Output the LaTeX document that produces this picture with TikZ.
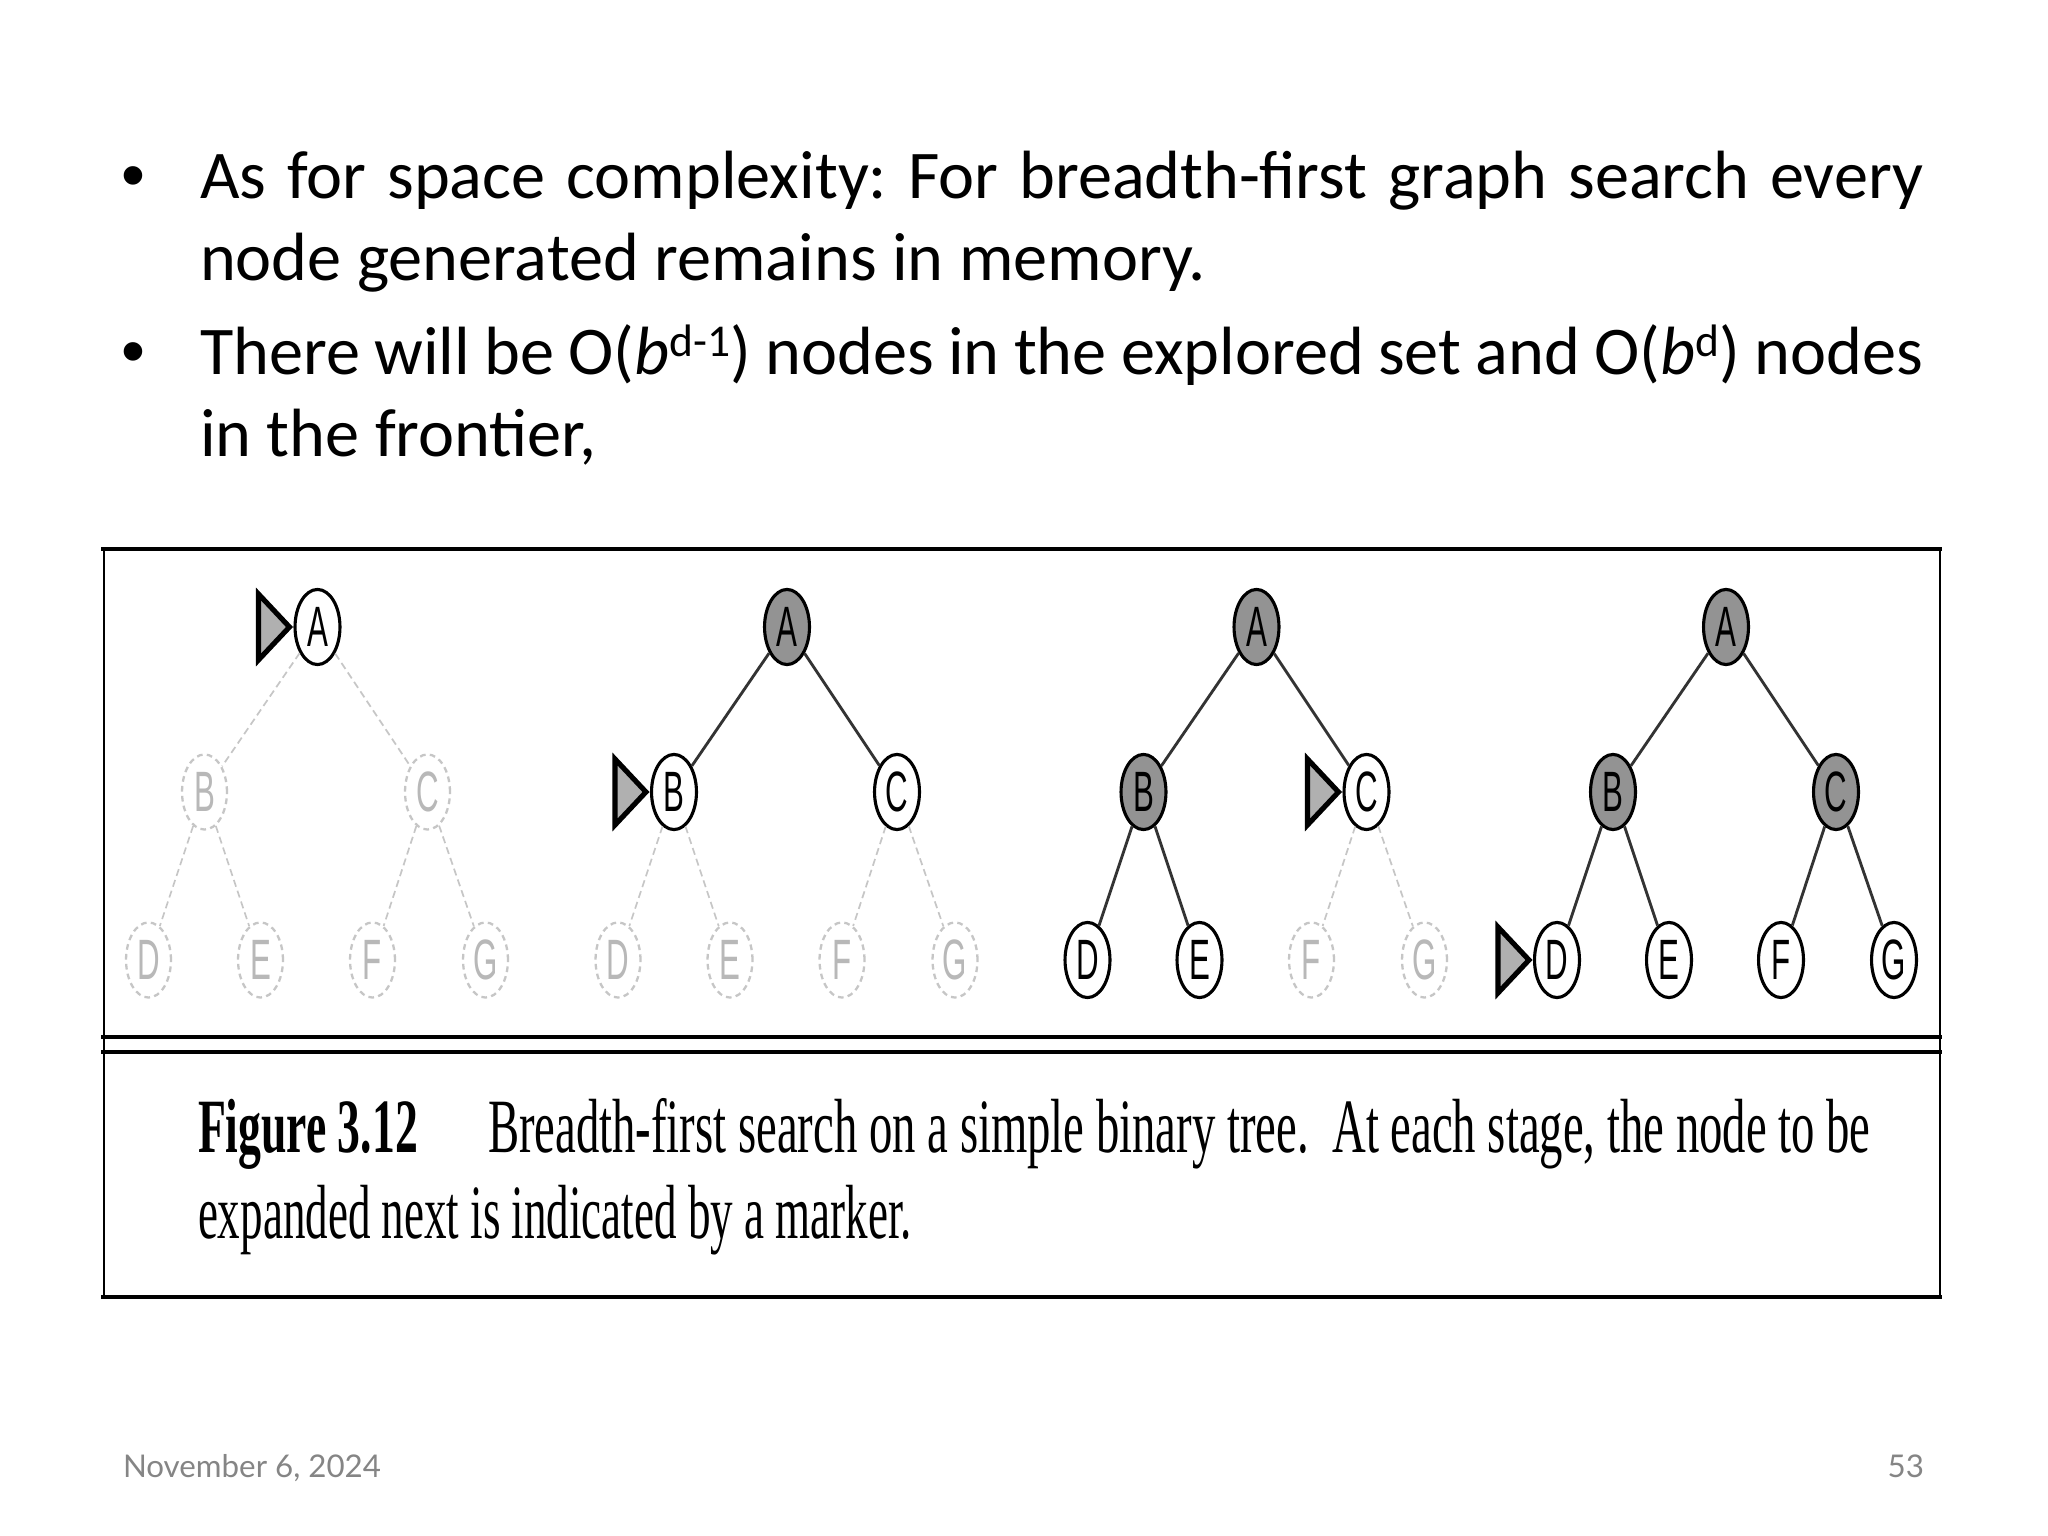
\documentclass[tikz,border=0pt]{standalone}
\usepackage{fontspec}
\usepackage{graphicx}
\setmainfont{Carlito}
\newfontfamily\footfont{Lato}
\newfontfamily\capfont{Liberation Serif}
\newfontfamily\treefont[FakeStretch=0.55]{Liberation Sans}
\newfontfamily\bulletfont{Liberation Sans}
\usetikzlibrary{calc,shapes.geometric}
\definecolor{unvgray}{HTML}{C6C6C6}
\definecolor{unvtext}{HTML}{B8B8B8}
\definecolor{exgray}{HTML}{939393}
\definecolor{markgray}{HTML}{B0B0B0}
\definecolor{footgray}{HTML}{858585}
\tikzset{
  txtline/.style={inner sep=0pt, outer sep=0pt, font=\frenchspacing\fontsize{24}{28.8}\selectfont},
  bul/.style={inner sep=0pt, outer sep=0pt, font=\bulletfont\fontsize{24}{28.8}\selectfont},
  foot/.style={inner sep=0pt, outer sep=0pt, text=footgray, font=\footfont\fontsize{11}{13}\selectfont},
  captxt/.style={inner sep=0pt, outer sep=0pt, font=\capfont\fontsize{27}{30}\selectfont},
  tnode/.style={ellipse, minimum width=15.8pt, minimum height=26.4pt, inner sep=0pt,
     font=\treefont\fontsize{20}{20}\selectfont},
  unv/.style={tnode, draw=unvgray, line width=0.8pt, dash pattern=on 2pt off 1.5pt, text=unvtext},
  fr/.style={tnode, draw=black, line width=1.1pt, fill=white, text=black},
  ex/.style={tnode, draw=black, line width=1.1pt, fill=exgray, text=black},
  unve/.style={draw=unvgray, line width=0.6pt, dash pattern=on 2.5pt off 1.5pt},
  fre/.style={draw=black!80, line width=1pt},
  exe/.style={draw=black!80, line width=1pt},
  bfsmarker/.style={draw=black, fill=markgray, line width=1.8pt, line join=miter},
  boxh/.style={draw=black, line width=1.4pt},
  boxv/.style={draw=black, line width=1pt}
}
\newcommand\bfstree[9]{%
  \node[#3] (#1a) at ({#2+169},627) {A};
  \node[#4] (#1b) at ({#2+56},792) {B};
  \node[#5] (#1c) at ({#2+279},792) {C};
  \node[#6] (#1d) at (#2,960) {D};
  \node[#7] (#1e) at ({#2+112},960) {E};
  \node[#8] (#1f) at ({#2+224},960) {F};
  \node[#9] (#1g) at ({#2+337},960) {G};
  \draw[#4e] (#1a) -- (#1b);
  \draw[#5e] (#1a) -- (#1c);
  \draw[#6e] (#1b) -- (#1d);
  \draw[#7e] (#1b) -- (#1e);
  \draw[#8e] (#1c) -- (#1f);
  \draw[#9e] (#1c) -- (#1g);
}
\newcommand\putmarker[1]{%
  \draw[bfsmarker] ($(#1.west)+(-4,0)$) -- ++(-31,-33) -- ++(0,66) -- cycle;}
\begin{document}
\begin{tikzpicture}[x=0.3515625pt, y=-0.3515625pt]
\useasboundingbox (0,0) rectangle (2048,1536);
\fill[white] (0,0) rectangle (2048,1536);

% bullets and text
\node[bul, anchor=base west] (b1) at (121,199) {•};
\node[txtline, anchor=base west] (l1) at (200,199)
  {\makebox[605.8pt][s]{As for space complexity: For breadth-first graph search every}};
\node[txtline, anchor=base west] (l2) at (200,281) {node generated remains in memory.};
\node[bul, anchor=base west] (b2) at (121,375) {•};
\node[txtline, anchor=base west] (l3) at (200,375)
  {\makebox[605.8pt][s]{There will be O(\textit{b}\raisebox{6.5pt}{\fontsize{16}{16}\selectfont d-1}) nodes in the explored set and O(\textit{b}\raisebox{6.5pt}{\fontsize{16}{16}\selectfont d}) nodes}};
\node[txtline, anchor=base west] (l4) at (200,457) {in the frontier,};

% figure box
\draw[boxh] (101,549) -- (1942,549);
\draw[boxh] (101,1037) -- (1942,1037);
\draw[boxh] (101,1052) -- (1942,1052);
\draw[boxh] (101,1297) -- (1942,1297);
\draw[boxv] (104,549) -- (104,1297);
\draw[boxv] (1940,549) -- (1940,1297);

% trees
\bfstree{p}{148.5}{fr}{unv}{unv}{unv}{unv}{unv}{unv}
\bfstree{q}{618}{ex}{fr}{fr}{unv}{unv}{unv}{unv}
\bfstree{r}{1087.5}{ex}{ex}{fr}{fr}{fr}{unv}{unv}
\bfstree{s}{1557}{ex}{ex}{ex}{fr}{fr}{fr}{fr}
\putmarker{pa}
\putmarker{qb}
\putmarker{rc}
\putmarker{sd}

% caption
\node[captxt, anchor=base west] (fig) at (198,1152) {\resizebox{77.3pt}{\height}{\bfseries Figure 3.12}};
\node[captxt, anchor=base west] (c1) at (488,1152) {\resizebox{486pt}{\height}{Breadth-first search on a simple binary tree.\ \ At each stage, the node to be}};
\node[captxt, anchor=base west] (c2) at (198,1238) {\resizebox{251pt}{\height}{expanded next is indicated by a marker.}};

% footer
\node[foot, anchor=base west] (date) at (123,1477) {November 6, 2024};
\node[foot, anchor=base east] (pg) at (1924,1477) {53};
\end{tikzpicture}
\end{document}
